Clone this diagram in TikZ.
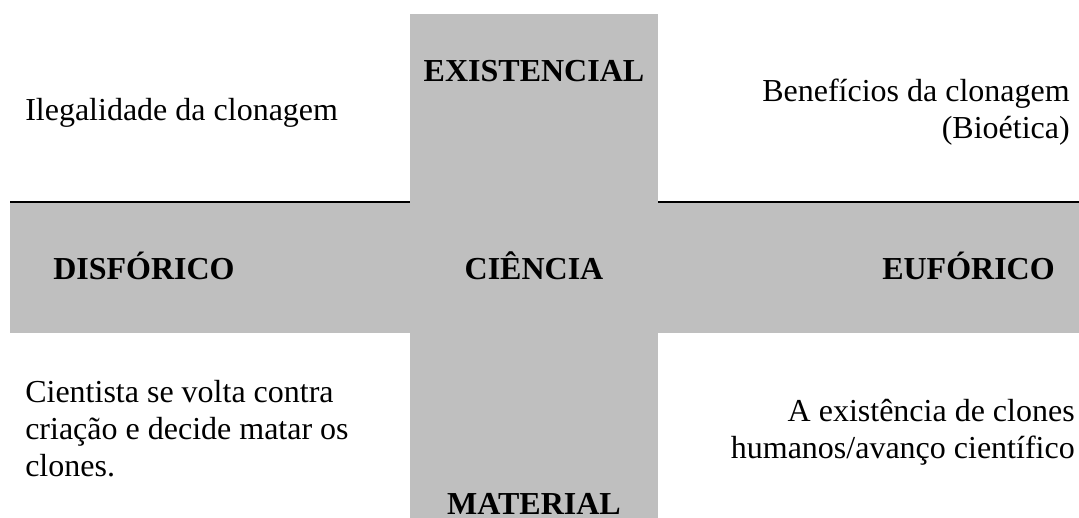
\documentclass[tikz,border=0pt]{standalone}
\usepackage{fontspec}
\setmainfont{Liberation Serif}
\definecolor{crossgray}{RGB}{191,191,191}

\begin{document}
\begin{tikzpicture}[x=0.75pt, y=-0.75pt,
  bar/.style={fill=crossgray, draw=none},
  rule/.style={line width=1.5pt, black},
  txt/.style={inner sep=0pt, font=\fontsize{24}{27.75}\selectfont},
  head/.style={inner sep=0pt, font=\fontsize{24}{27.75}\selectfont\bfseries}
]
  \useasboundingbox (0,0) rectangle (1079,518);

  % the cross
  \fill[bar] (410,14) rectangle (658,518);
  \fill[bar] (10,203) rectangle (1079,333);
  \draw[rule] (10,202) -- (410,202);
  \draw[rule] (658,202) -- (1079,202);

  % axis labels
  \node[head, anchor=base] (exist) at (534,81) {EXISTENCIAL};
  \node[head, anchor=base] (ciencia) at (534,279) {CIÊNCIA};
  \node[head, anchor=base] (material) at (534,514) {MATERIAL};
  \node[head, anchor=base west] (disforico) at (53,279) {DISFÓRICO};
  \node[head, anchor=base east] (euforico) at (1055,279) {EUFÓRICO};

  % quadrants (base = last line)
  \node[txt, anchor=base west] (ilegal) at (25,120) {Ilegalidade da clonagem};
  \node[txt, anchor=base east, align=right] (beneficios) at (1070,138)
    {Benefícios da clonagem\\(Bioética)};
  \node[txt, anchor=base west, align=left] (cientista) at (25,476)
    {Cientista se volta contra\\criação e decide matar os\\clones.};
  \node[txt, anchor=base east, align=right] (existencia) at (1075,458)
    {A existência de clones\\humanos/avanço científico};
\end{tikzpicture}
\end{document}
